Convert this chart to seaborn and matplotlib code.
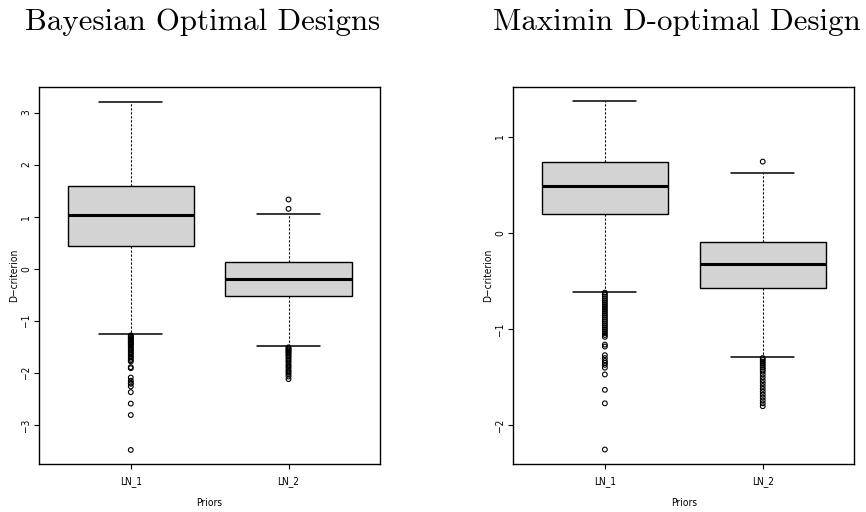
import numpy as np
import pandas as pd
import matplotlib
matplotlib.use("Agg")
import matplotlib.pyplot as plt
import seaborn as sns

# ---------------- data ----------------
priors = ["LN_1", "LN_2"]

# Bayesian Optimal Designs
bayes_whislo = [-1.26, -1.49]
bayes_q1 = [0.44, -0.53]
bayes_med = [1.04, -0.19]
bayes_q3 = [1.59, 0.12]
bayes_whishi = [3.21, 1.05]
bayes_out_ln1 = [-1.28, -1.30, -1.31, -1.33, -1.35, -1.36, -1.38, -1.40, -1.42,
                 -1.44, -1.45, -1.47, -1.50, -1.52, -1.55, -1.57, -1.60, -1.62,
                 -1.65, -1.68, -1.70, -1.73, -1.76, -1.78, -1.89, -1.91, -2.09,
                 -2.15, -2.19, -2.21, -2.26, -2.37, -2.59, -2.81, -3.48]
bayes_out_ln2 = [1.15, 1.33, -1.51, -1.53, -1.55, -1.57, -1.59, -1.61, -1.63,
                 -1.66, -1.68, -1.71, -1.74, -1.77, -1.80, -1.84, -1.87, -1.90,
                 -1.94, -1.97, -2.00, -2.03, -2.07, -2.12]

# Maximin D-optimal Design
maximin_whislo = [-0.613, -1.285]
maximin_q1 = [0.197, -0.575]
maximin_med = [0.485, -0.319]
maximin_q3 = [0.74, -0.097]
maximin_whishi = [1.365, 0.617]
maximin_out_ln1 = [-0.62, -0.64, -0.66, -0.68, -0.70, -0.72, -0.74, -0.76,
                   -0.78, -0.80, -0.82, -0.84, -0.86, -0.88, -0.90, -0.92,
                   -0.94, -0.96, -0.98, -1.00, -1.02, -1.04, -1.06, -1.08,
                   -1.16, -1.18, -1.27, -1.30, -1.33, -1.35, -1.37, -1.40,
                   -1.47, -1.63, -1.77, -2.25]
maximin_out_ln2 = [0.74, -1.30, -1.32, -1.34, -1.36, -1.38, -1.40, -1.42,
                   -1.44, -1.47, -1.50, -1.53, -1.56, -1.59, -1.62, -1.65,
                   -1.68, -1.71, -1.74, -1.77, -1.80]

titles = ["Bayesian Optimal Designs", "Maximin D-optimal Design"]
y_label = "D\u2212criterion"
x_label = "Priors"
bayes_yticks = [-3, -2, -1, 0, 1, 2, 3]
maximin_yticks = [-2, -1, 0, 1]

# ---------------- style ----------------
sns.set_style("white")
plt.rcParams["font.family"] = ["DejaVu Sans"]
plt.rcParams["axes.unicode_minus"] = True
plt.rcParams["text.color"] = "black"

W, H = 866, 512
fig = plt.figure(figsize=(W / 100, H / 100), dpi=100)
fig.patch.set_facecolor("white")

axL = fig.add_axes([39.3 / W, 1 - 464 / H, 340.7 / W, 377 / H])
axR = fig.add_axes([513.3 / W, 1 - 464 / H, 341 / W, 377 / H])

FS = 7.3


def panel(ax, whislo, q1, med, q3, whishi, out1, out2, ylim, yticks, ylab_x):
    vals = []
    cats = []
    for i, p in enumerate(priors):
        five = [whislo[i], q1[i], med[i], q3[i], whishi[i]]
        vals += five
        cats += [p] * len(five)
    df = pd.DataFrame({"Priors": cats, "v": vals})
    sns.boxplot(data=df, x="Priors", y="v", order=priors, ax=ax,
                whis=(0, 100), showfliers=False, width=0.8,
                color="#D3D3D3", saturation=1, linecolor="black", linewidth=1.0,
                medianprops=dict(linewidth=2.2, color="black"),
                whiskerprops=dict(linestyle=(0, (2.0, 1.6)), linewidth=0.8,
                                  color="black"),
                capprops=dict(linewidth=1.1, color="black"),
                boxprops=dict(edgecolor="black", linewidth=1.0))
    fl = pd.DataFrame({"Priors": ["LN_1"] * len(out1) + ["LN_2"] * len(out2),
                       "v": list(out1) + list(out2)})
    sns.stripplot(data=fl, x="Priors", y="v", order=priors, ax=ax,
                  jitter=False, color="black", size=3.4, marker="o",
                  linewidth=0.8, edgecolor="black")
    for c in ax.collections:
        c.set_facecolor("none")
        c.set_edgecolor("black")

    ax.set_xlim(-0.58, 1.58)
    ax.set_ylim(*ylim)
    ax.set_yticks(yticks)
    ax.set_yticklabels([str(t).replace("-", "\u2212") for t in yticks])
    for s in ax.spines.values():
        s.set_visible(True)
        s.set_color("black")
        s.set_linewidth(1.0)
    ax.tick_params(axis="both", direction="out", length=3.5, width=0.8,
                   color="black", labelcolor="black", left=True, bottom=True,
                   labelsize=FS)
    ax.tick_params(axis="x", pad=5)
    ax.tick_params(axis="y", pad=2.5, labelrotation=90)
    for lb in ax.get_yticklabels():
        lb.set_va("center")
        lb.set_ha("right")
        lb.set_fontstretch("condensed")
    for lb in ax.get_xticklabels():
        lb.set_fontstretch("condensed")
    ax.set_xlabel(x_label, fontsize=FS, fontstretch="condensed", color="black")
    ax.set_ylabel(y_label, fontsize=FS, fontstretch="condensed", color="black")
    ax.xaxis.set_label_coords(0.5, (464 - 503) / 377)
    ax.xaxis.label.set_va("center")
    ax.yaxis.set_label_coords(ylab_x, 0.5)
    ax.yaxis.label.set_va("center")


panel(axL, bayes_whislo, bayes_q1, bayes_med, bayes_q3, bayes_whishi,
      bayes_out_ln1, bayes_out_ln2, (-3.75, 3.49), bayes_yticks,
      (14 - 39.3) / 340.7)
panel(axR, maximin_whislo, maximin_q1, maximin_med, maximin_q3, maximin_whishi,
      maximin_out_ln1, maximin_out_ln2, (-2.40, 1.515), maximin_yticks,
      (488 - 513.3) / 341)

fig.text(25 / W, 1 - 30 / H, titles[0], fontfamily="cmr10", fontsize=22.2,
         ha="left", va="baseline", color="black")
fig.text(493 / W, 1 - 30 / H, titles[1], fontfamily="cmr10", fontsize=22.2,
         ha="left", va="baseline", color="black")

fig.savefig("out.png", dpi=100, facecolor="white")
